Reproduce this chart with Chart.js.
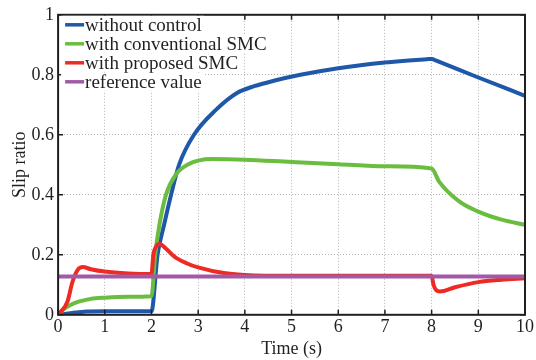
<!DOCTYPE html>
<html>
<head>
<meta charset="utf-8">
<script src="https://cdn.jsdelivr.net/npm/chart.js@4.4.1/dist/chart.umd.min.js"></script>
<style>
  body { margin: 0; background: #fff; }
  #wrap { width: 536px; height: 360px; }
</style>
</head>
<body>
<div id="wrap"><canvas id="slipChart" width="536" height="360"></canvas></div>
<script>
// tick positions on both axes
const xTicks = [0, 1, 2, 3, 4, 5, 6, 7, 8, 9, 10];
const yTicks = [0, 0.2, 0.4, 0.6, 0.8, 1];

// without control
const blueT = [0, 0.3, 0.6, 1, 2, 2.13, 2.27, 2.42, 2.59, 2.91, 3.38, 3.84, 4.2, 4.62, 5.19, 6, 7, 7.9, 8, 8.1, 9, 10];
const blueV = [0, 0.006, 0.011, 0.012, 0.012, 0.2, 0.3, 0.4, 0.5, 0.6, 0.683, 0.74, 0.762, 0.78, 0.8, 0.822, 0.841, 0.852, 0.853, 0.847, 0.791, 0.73];

// with conventional SMC
const greenT = [0, 0.15, 0.35, 0.7, 1, 1.5, 2, 2.08, 2.17, 2.31, 2.52, 2.77, 3.3, 4, 5, 6, 7, 8, 8.16, 8.59, 9, 9.5, 10];
const greenV = [0, 0.022, 0.039, 0.053, 0.057, 0.06, 0.062, 0.2, 0.3, 0.4, 0.467, 0.5, 0.519, 0.517, 0.509, 0.502, 0.495, 0.488, 0.444, 0.378, 0.344, 0.317, 0.3];

// with proposed SMC
const redT = [0, 0.2, 0.31, 0.42, 0.53, 0.7, 1, 1.5, 2, 2.04, 2.1, 2.17, 2.3, 2.49, 2.75, 3, 3.55, 4, 5, 6, 7, 8, 8.04, 8.1, 8.18, 8.5, 9, 9.5, 10];
const redV = [0, 0.044, 0.111, 0.15, 0.159, 0.152, 0.144, 0.138, 0.136, 0.2, 0.228, 0.236, 0.222, 0.194, 0.172, 0.158, 0.139, 0.133, 0.13, 0.13, 0.13, 0.13, 0.1, 0.082, 0.078, 0.092, 0.109, 0.117, 0.122];

// reference value
const refT = [0, 10];
const refV = [0.128, 0.128];

const labels = ["without control", "with conventional SMC", "with proposed SMC", "reference value"];
const colors = ["#1f58a8", "#6abd3e", "#ef2a24", "#a25aa6"];

function zip(t, v) {
  return t.map((x, i) => ({ x: x, y: v[i] }));
}

const serif = "'Liberation Serif', 'DejaVu Serif', serif";
const ink = "#231f20";

// box round the plot, ticks pointing inwards, legend top left
const framePlugin = {
  id: "frame",
  afterDraw(chart) {
    const ctx = chart.ctx;
    const a = chart.chartArea;
    const xs = chart.scales.x;
    const ys = chart.scales.y;
    ctx.save();
    ctx.strokeStyle = ink;
    ctx.lineWidth = 1.5;
    xTicks.forEach((t) => {
      const px = xs.getPixelForValue(t);
      ctx.beginPath();
      ctx.moveTo(px, a.bottom); ctx.lineTo(px, a.bottom - 5);
      ctx.moveTo(px, a.top); ctx.lineTo(px, a.top + 5);
      ctx.stroke();
    });
    yTicks.forEach((t) => {
      const py = ys.getPixelForValue(t);
      ctx.beginPath();
      ctx.moveTo(a.left, py); ctx.lineTo(a.left + 5, py);
      ctx.moveTo(a.right, py); ctx.lineTo(a.right - 5, py);
      ctx.stroke();
    });
    ctx.lineWidth = 2;
    ctx.strokeRect(a.left, a.top, a.right - a.left, a.bottom - a.top);

    ctx.font = "19px " + serif;
    ctx.textBaseline = "middle";
    labels.forEach((lab, i) => {
      const y = a.top + 10 + i * 19;
      const w = ctx.measureText(lab).width;
      ctx.fillStyle = "#fff";
      ctx.fillRect(a.left + 3, y - 9, 26 + w, 18);
      ctx.strokeStyle = colors[i];
      ctx.lineWidth = 3.5;
      ctx.beginPath();
      ctx.moveTo(a.left + 7, y); ctx.lineTo(a.left + 26, y);
      ctx.stroke();
      ctx.fillStyle = ink;
      ctx.fillText(lab, a.left + 27, y + 1);
    });
    ctx.restore();
  },
};

const tickFont = { family: serif, size: 18 };

const ctx = document.getElementById("slipChart").getContext("2d");
const chart = new Chart(ctx, {
  type: "line",
  data: {
    datasets: [
      { label: labels[0], data: zip(blueT, blueV), borderColor: colors[0], order: 4 },
      { label: labels[1], data: zip(greenT, greenV), borderColor: colors[1], order: 3 },
      { label: labels[2], data: zip(redT, redV), borderColor: colors[2], order: 2 },
      { label: labels[3], data: zip(refT, refV), borderColor: colors[3], order: 1 },
    ].map((d) => Object.assign(d, {
      borderWidth: 4,
      pointRadius: 0,
      fill: false,
      cubicInterpolationMode: "monotone",
    })),
  },
  options: {
    responsive: false,
    animation: false,
    layout: { padding: { top: 5, right: 1, left: 9, bottom: 0 } },
    plugins: { legend: { display: false }, tooltip: { enabled: false } },
    scales: {
      x: {
        type: "linear",
        min: 0,
        max: 10,
        grid: { color: "#b5b5b5", lineWidth: 1, drawTicks: false },
        border: { display: false, dash: [1, 2] },
        ticks: { stepSize: 1, color: ink, padding: 2, font: tickFont },
        title: { display: true, text: "Time (s)", color: ink, padding: { top: -2, bottom: 0 }, font: tickFont },
      },
      y: {
        min: 0,
        max: 1,
        grid: { color: "#b5b5b5", lineWidth: 1, drawTicks: false },
        border: { display: false, dash: [1, 2] },
        ticks: {
          stepSize: 0.2,
          color: ink,
          padding: 4,
          font: tickFont,
          callback: (v) => String(+v.toFixed(1)),
        },
        title: { display: true, text: "Slip ratio", color: ink, padding: { top: 0, bottom: -3 }, font: tickFont },
      },
    },
  },
  plugins: [framePlugin],
});
</script>
</body>
</html>
